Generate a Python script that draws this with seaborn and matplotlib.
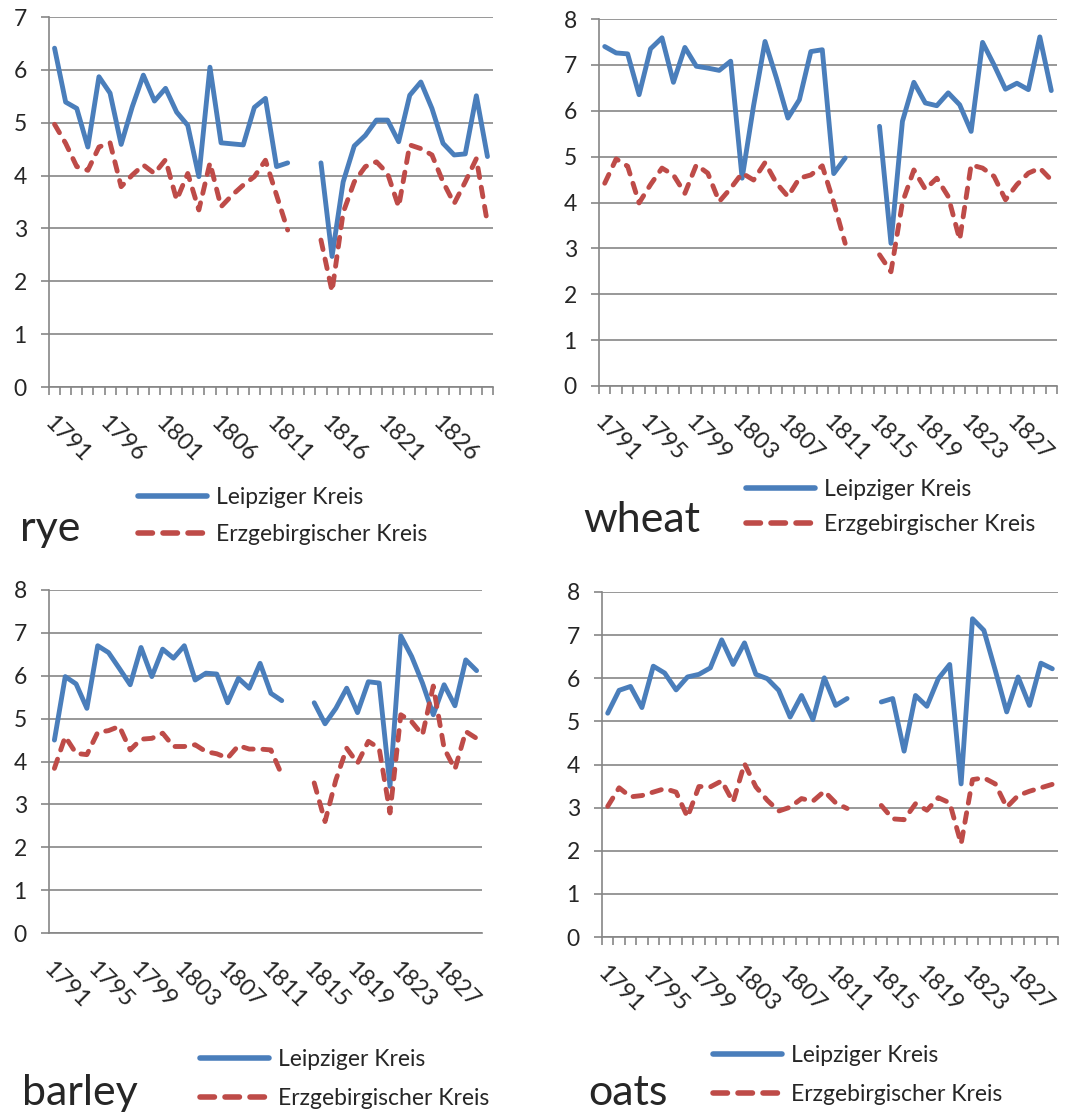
import numpy as np
import pandas as pd
import matplotlib
matplotlib.use("Agg")
import matplotlib.pyplot as plt
import seaborn as sns

nan = np.nan
years = list(range(1791, 1831))
regions = ["Leipziger Kreis", "Erzgebirgischer Kreis"]

# values, 1813 and 1814 missing
rye_leipzig = [6.41, 5.39, 5.27, 4.54, 5.87, 5.56, 4.59, 5.30, 5.90, 5.41,
               5.65, 5.20, 4.95, 3.98, 6.05, 4.62, 4.60, 4.58, 5.29, 5.46,
               4.17, 4.24, nan, nan, 4.24, 2.47, 3.88, 4.56, 4.76, 5.05,
               5.05, 4.64, 5.52, 5.77, 5.27, 4.61, 4.39, 4.41, 5.51, 4.36]
rye_erz = [4.97, 4.61, 4.17, 4.10, 4.54, 4.62, 3.79, 4.01, 4.20, 4.04,
           4.30, 3.54, 4.04, 3.35, 4.24, 3.41, 3.63, 3.82, 3.98, 4.29,
           3.63, 2.97, nan, nan, 2.78, 1.81, 3.30, 3.88, 4.17, 4.26,
           4.04, 3.41, 4.58, 4.51, 4.39, 3.88, 3.47, 3.88, 4.32, 3.10]

wheat_leipzig = [7.40, 7.26, 7.24, 6.35, 7.35, 7.59, 6.62, 7.38, 6.97, 6.93,
                 6.88, 7.08, 4.53, 6.11, 7.51, 6.71, 5.84, 6.24, 7.29, 7.33,
                 4.63, 4.97, nan, nan, 5.66, 3.11, 5.77, 6.62, 6.17, 6.11,
                 6.39, 6.13, 5.55, 7.49, 7.00, 6.47, 6.60, 6.46, 7.61, 6.44]
wheat_erz = [4.42, 4.95, 4.79, 3.99, 4.39, 4.75, 4.60, 4.20, 4.82, 4.64,
             4.02, 4.31, 4.64, 4.49, 4.87, 4.42, 4.13, 4.53, 4.60, 4.80,
             4.00, 3.11, nan, nan, 2.86, 2.49, 4.00, 4.71, 4.29, 4.53,
             4.13, 3.19, 4.82, 4.75, 4.57, 4.06, 4.39, 4.64, 4.75, 4.49]

barley_leipzig = [4.50, 5.98, 5.81, 5.24, 6.70, 6.54, 6.17, 5.79, 6.66, 5.98,
                  6.62, 6.41, 6.70, 5.90, 6.06, 6.04, 5.37, 5.94, 5.71, 6.29,
                  5.59, 5.42, nan, nan, 5.37, 4.88, 5.24, 5.71, 5.14, 5.86,
                  5.83, 3.42, 6.93, 6.45, 5.83, 5.09, 5.79, 5.30, 6.37, 6.12]
barley_erz = [3.84, 4.58, 4.19, 4.16, 4.68, 4.72, 4.82, 4.27, 4.52, 4.54,
              4.66, 4.35, 4.35, 4.39, 4.23, 4.18, 4.08, 4.37, 4.29, 4.29,
              4.27, 3.69, nan, nan, 3.50, 2.60, 3.57, 4.31, 3.96, 4.47,
              4.31, 2.80, 5.09, 4.93, 4.62, 5.76, 4.31, 3.82, 4.70, 4.54]

oats_leipzig = [5.19, 5.72, 5.81, 5.32, 6.28, 6.12, 5.73, 6.03, 6.09, 6.24,
                6.89, 6.32, 6.82, 6.09, 5.99, 5.72, 5.10, 5.60, 5.04, 6.01,
                5.37, 5.53, nan, nan, 5.45, 5.53, 4.31, 5.60, 5.35, 5.99,
                6.32, 3.55, 7.38, 7.11, 6.18, 5.22, 6.03, 5.37, 6.35, 6.22]
oats_erz = [3.03, 3.46, 3.25, 3.28, 3.36, 3.44, 3.36, 2.78, 3.49, 3.48,
            3.62, 3.13, 4.02, 3.48, 3.17, 2.92, 3.01, 3.21, 3.15, 3.38,
            3.11, 2.98, nan, nan, 3.05, 2.74, 2.72, 3.09, 2.94, 3.23,
            3.11, 2.16, 3.65, 3.69, 3.55, 3.01, 3.28, 3.38, 3.46, 3.54]

rye_labels = [1791, 1796, 1801, 1806, 1811, 1816, 1821, 1826]
other_labels = [1791, 1795, 1799, 1803, 1807, 1811, 1815, 1819, 1823, 1827]

sns.set_style("white")
plt.rcParams['font.family'] = ['Lato', 'DejaVu Sans']

GRID = "#868686"
palette = {"Leipziger Kreis": "#4A7EBB", "Erzgebirgischer Kreis": "#BE4B48"}
dashes = {"Leipziger Kreis": "", "Erzgebirgischer Kreis": (2.0, 2.0)}

W, H = 1081, 1115
fig = plt.figure(figsize=(W / 100, H / 100), dpi=100)


def long_frame(leip, erz):
    rows = []
    for name, vals in zip(regions, [leip, erz]):
        for y, v in zip(years, vals):
            rows.append({"year": y, "value": v, "region": name,
                         "seg": f"{name}-{0 if y < 1813 else 1}"})
    return pd.DataFrame(rows).dropna()


# name, data, box (left, top, right, bottom px), ymax, labels, minor ticks,
# legend (x, y-centre px, labelspacing), title (x, baseline px)
panels = [
    ("rye", rye_leipzig, rye_erz, (49, 17, 493, 387), 7, rye_labels, True, (138, 516, 0.7), (20, 541)),
    ("wheat", wheat_leipzig, wheat_erz, (599, 19, 1057, 386), 8, other_labels, True, (746, 507, 0.6), (583, 532)),
    ("barley", barley_leipzig, barley_erz, (49, 590, 482, 933), 8, other_labels, False, (200, 1079, 0.75), (22, 1105)),
    ("oats", oats_leipzig, oats_erz, (602, 592, 1058, 937), 8, other_labels, True, (713, 1075, 0.8), (588, 1105)),
]

for name, leip, erz, box, ymax, labels, minor, leg, title in panels:
    l, t, r, b = box
    ax = fig.add_axes([l / W, 1 - b / H, (r - l) / W, (b - t) / H])
    df = long_frame(leip, erz)
    sns.lineplot(data=df, x="year", y="value", hue="region", style="region",
                 units="seg", estimator=None, palette=palette, dashes=dashes,
                 hue_order=regions, style_order=regions,
                 lw=3.5, solid_capstyle="round", dash_capstyle="round",
                 solid_joinstyle="round", ax=ax)

    ax.set_xlim(1790.5, 1830.5)
    ax.set_ylim(0, ymax)
    ax.set_yticks(range(0, ymax + 1))
    ax.set_xticks(labels)
    ax.set_xticklabels([str(v) for v in labels])
    if minor:
        ax.set_xticks(np.arange(1790.5, 1831, 1), minor=True)
    ax.set_xlabel("")
    ax.set_ylabel("")
    ax.grid(axis="y", color=GRID, lw=1.2)
    ax.set_axisbelow(True)
    for s in ["top", "right"]:
        ax.spines[s].set_visible(False)
    for s in ["left", "bottom"]:
        ax.spines[s].set_color(GRID)
        ax.spines[s].set_linewidth(1.2)
    ax.tick_params(axis="y", length=6, width=1.2, color=GRID, pad=10,
                   labelsize=16.5, left=True)
    ax.tick_params(axis="x", which="major", length=0, pad=18, labelsize=17,
                   bottom=True)
    ax.tick_params(axis="x", which="minor", length=6, width=1.2, color=GRID,
                   bottom=minor)
    plt.setp(ax.get_xticklabels(), rotation=-45, ha="left", va="top",
             rotation_mode="anchor")

    handles, labs = ax.get_legend_handles_labels()
    lx, ly, sp = leg
    lg = ax.legend(handles, labs, loc="center left",
                   bbox_to_anchor=(lx / W, 1 - ly / H),
                   bbox_transform=fig.transFigure, frameon=False,
                   handlelength=3.0, handletextpad=0.4, labelspacing=sp,
                   borderpad=0, borderaxespad=0, fontsize=16.5)
    for i, ln in enumerate(lg.get_lines()):
        ln.set_linewidth(4.0)
        ln.set_dash_capstyle("round")
        ln.set_solid_capstyle("round")
        if i == 1:
            ln.set_dashes((2.6, 1.9))

    tx, ty = title
    fig.text(tx / W, 1 - ty / H, name, fontsize=31, va="baseline", ha="left")

fig.savefig("out.png", dpi=100)
